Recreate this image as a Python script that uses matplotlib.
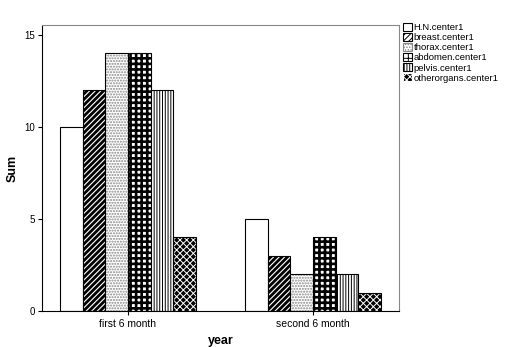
import matplotlib
matplotlib.use("Agg")
import matplotlib.pyplot as plt
import numpy as np
from matplotlib.patches import Patch

plt.rcParams['font.family'] = ['Liberation Sans', 'DejaVu Sans']

# --- datos ---
periods = ["first 6 month", "second 6 month"]
organs = ["H.N.center1", "breast.center1", "thorax.center1",
          "abdomen.center1", "pelvis.center1", "otherorgans.center1"]
values = [
    [10, 5],   # H.N
    [12, 3],   # breast
    [14, 2],   # thorax
    [14, 4],   # abdomen
    [12, 2],   # pelvis
    [4, 1],    # otherorgans
]

# estilos (relleno, color del patron, patron, grosor del patron)
styles = [
    ("white", "black", None, 1.0),
    ("white", "black", "//////", 2.0),
    ("white", "#888888", "......", 1.0),
    ("white", "black", "+++", 1.9),
    ("white", "black", "||||||", 0.7),
    ("black", "white", "xxxxx", 0.7),
]

fig = plt.figure(figsize=(5.07, 3.47), dpi=100)
ax = fig.add_axes([0.0828, 0.1037, 0.7042, 0.8243])

x = np.arange(len(periods))
w = 0.1227
handles = []
for i, (name, vals) in enumerate(zip(organs, values)):
    fc, hc, hatch, hlw = styles[i]
    plt.rcParams['hatch.linewidth'] = hlw
    pos = x + (i - 2.5) * w
    ax.bar(pos, vals, width=w, color=fc, edgecolor=hc, hatch=hatch, linewidth=0)
    ax.bar(pos, vals, width=w, fill=False, edgecolor="black", linewidth=0.8)
    handles.append(Patch(facecolor=fc, edgecolor=hc, hatch=hatch, linewidth=0.8))

ax.set_xlim(-0.465, 1.465)
ax.set_ylim(0, 15.54)
ax.set_xticks(x)
ax.set_xticklabels(periods, fontsize=7.5)
ax.set_yticks([0, 5, 10, 15])
ax.tick_params(axis="y", labelsize=7, length=3, pad=2)
ax.tick_params(axis="x", length=3, pad=3)
ax.set_xlabel("year", fontsize=9, fontweight="bold")
ax.set_ylabel("Sum", fontsize=9, fontweight="bold")
ax.xaxis.set_label_coords(0.5, -0.085)
ax.yaxis.set_label_coords(-0.065, 0.5)
for s in ["top", "right"]:
    ax.spines[s].set_color("#888888")
for s in ["left", "bottom"]:
    ax.spines[s].set_color("black")

leg = fig.legend(handles, organs, loc="upper left", bbox_to_anchor=(0.787, 0.945),
                 fontsize=6.8, frameon=False, handlelength=1.0, handleheight=0.9,
                 handletextpad=0.15, labelspacing=0.1, borderaxespad=0)

fig.savefig("out.png", dpi=100)
